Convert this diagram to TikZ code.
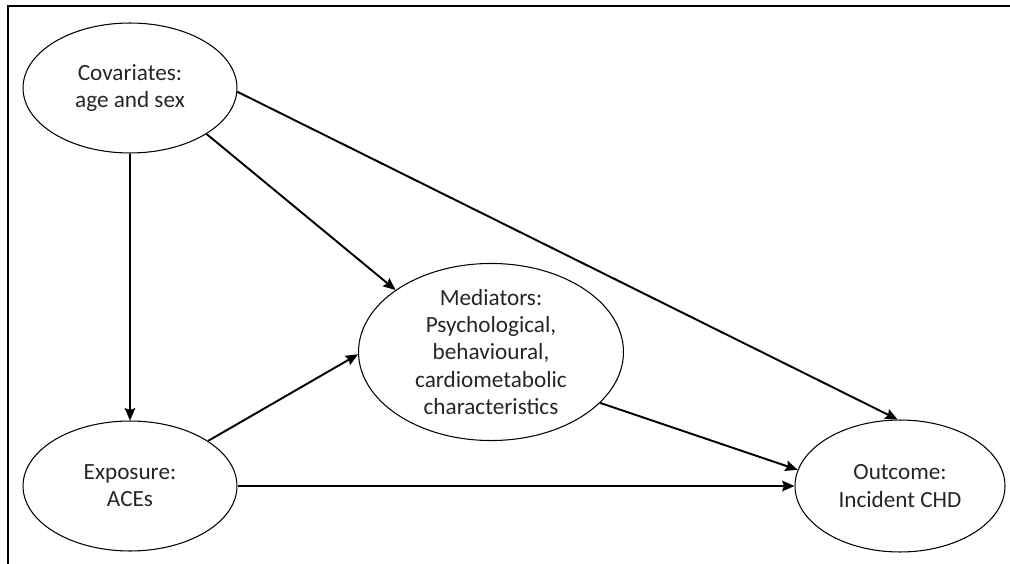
\documentclass[tikz,border=0pt]{standalone}
\usepackage{fontspec}
\setmainfont{Carlito}
\usetikzlibrary{shapes.geometric,arrows.meta}
\begin{document}
\begin{tikzpicture}[x=0.02cm,y=-0.02cm,
    oval/.style={ellipse,draw,line width=0.6pt,inner sep=0pt,align=center,
      text=black!85,font=\fontsize{13.2}{15.5}\selectfont},
    arr/.style={-{Stealth[length=7pt,width=6pt,inset=1pt]},line width=1.1pt}]
    \useasboundingbox (0,0) rectangle (1010,564);
    % frame: top and left edges only
    \draw[line width=1.1pt] (1010,6)--(8,6)--(8,564);
    \node[oval,minimum width=4.28cm,minimum height=2.6cm] (cov) at (130,88) {Covariates:\\age and sex};
    \node[oval,minimum width=4.28cm,minimum height=2.6cm] (exp) at (130,486) {Exposure:\\ACEs};
    \node[oval,minimum width=5.3cm,minimum height=3.4cm] (med) at (491,352) {Mediators:\\Psychological,\\behavioural,\\cardiometabolic\\characteristics};
    \node[oval,minimum width=4.2cm,minimum height=2.64cm] (out) at (900,486) {Outcome:\\Incident CHD};
    \draw[arr](cov.south)--(exp.north);
    \draw[arr](cov.-31)--(med.147);
    \draw[arr](cov.-2)--(out.92);
    \draw[arr](exp.30)--(med.181);
    \draw[arr](exp.east)--(out.west);
    \draw[arr](med.-25)--(out.171);
\end{tikzpicture}
\end{document}
